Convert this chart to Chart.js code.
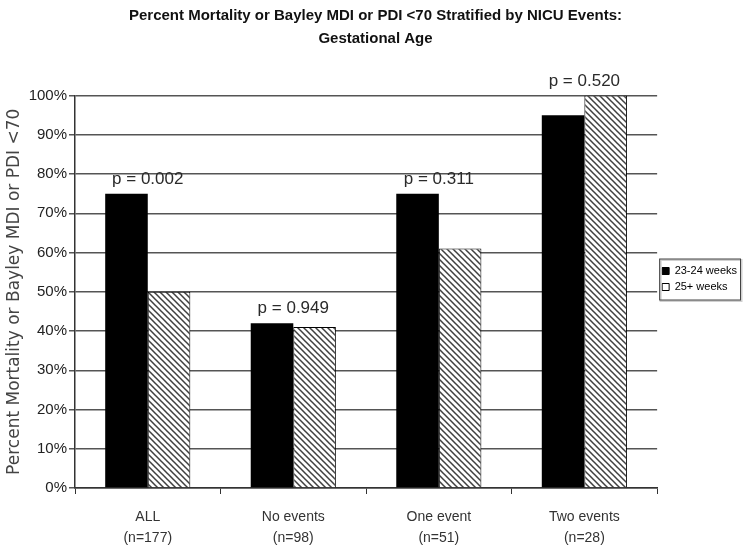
<!DOCTYPE html>
<html>
<head>
<meta charset="utf-8">
<script src="https://cdn.jsdelivr.net/npm/chart.js@4/dist/chart.umd.min.js"></script>
<style>
  html, body { margin: 0; padding: 0; background: #fff; }
  #wrap { width: 750px; height: 558px; position: relative; }
</style>
</head>
<body>
<div id="wrap"><canvas id="c" width="750" height="558"></canvas></div>
<script>
// ---- data ----
const categories = ['ALL', 'No events', 'One event', 'Two events'];
const groupSizes = ['(n=177)', '(n=98)', '(n=51)', '(n=28)'];
const seriesNames = ['23-24 weeks', '25+ weeks'];
const weeks23to24 = [75, 42, 75, 95];
const weeks25plus = [50, 41, 61, 100];
const pValues = ['p = 0.002', 'p = 0.949', 'p = 0.311', 'p = 0.520'];
const yTicks = [0, 10, 20, 30, 40, 50, 60, 70, 80, 90, 100];

const NARROW = "'Liberation Sans Narrow', 'Arial Narrow', 'Liberation Sans', Arial, sans-serif";

function makeHatch() {
  const s = 6;
  const c = document.createElement('canvas');
  c.width = s; c.height = s;
  const g = c.getContext('2d');
  g.fillStyle = '#ffffff';
  g.fillRect(0, 0, s, s);
  g.strokeStyle = '#404040';
  g.lineWidth = 1.5;
  g.beginPath();
  g.moveTo(-2, -2); g.lineTo(s + 2, s + 2);
  g.moveTo(-2 - s, -2); g.lineTo(2, s + 2);
  g.moveTo(s - 2, -2); g.lineTo(2 * s + 2, s + 2);
  g.stroke();
  return g.createPattern(c, 'repeat');
}
const hatch = makeHatch();

const pLabelPlugin = {
  id: 'pLabels',
  afterDatasetsDraw(chart) {
    const ctx = chart.ctx;
    const xs = chart.scales.x, ys = chart.scales.y;
    ctx.save();
    ctx.font = "17px " + NARROW;
    ctx.fillStyle = '#2a2a2a';
    ctx.textAlign = 'center';
    ctx.textBaseline = 'bottom';
    pValues.forEach((t, i) => {
      const top = Math.max(weeks23to24[i], weeks25plus[i]);
      ctx.fillText(t, xs.getPixelForValue(i), ys.getPixelForValue(top) - 6);
    });
    ctx.restore();
  }
};

const legendBoxPlugin = {
  id: 'legendBox',
  afterDraw(chart) {
    const lg = chart.legend;
    if (!lg || !lg.legendHitBoxes || !lg.legendHitBoxes.length) return;
    const hb = lg.legendHitBoxes;
    let l = Infinity, t = Infinity, r = -Infinity, b = -Infinity;
    hb.forEach(h => { l = Math.min(l, h.left); t = Math.min(t, h.top); r = Math.max(r, h.left + h.width); b = Math.max(b, h.top + h.height); });
    const ctx = chart.ctx;
    ctx.save();
    ctx.strokeStyle = '#d0d0d0';
    ctx.lineWidth = 2;
    ctx.strokeRect(l - 3 + 1.5, t - 7 + 1.5, (r - l) + 6, (b - t) + 14);
    ctx.strokeStyle = '#444';
    ctx.lineWidth = 1;
    ctx.strokeRect(l - 3 + 0.5, t - 7 + 0.5, (r - l) + 6, (b - t) + 14);
    ctx.restore();
  }
};

new Chart(document.getElementById('c'), {
  type: 'bar',
  data: {
    labels: categories.map((c, i) => [c, groupSizes[i]]),
    datasets: [
      { label: seriesNames[0], data: weeks23to24, backgroundColor: '#000000', borderColor: '#000000', borderWidth: 0 },
      { label: seriesNames[1], data: weeks25plus, backgroundColor: hatch, borderColor: '#000000', borderWidth: 1 }
    ]
  },
  options: {
    responsive: false,
    animation: false,
    devicePixelRatio: 1,
    datasets: { bar: { categoryPercentage: 0.585, barPercentage: 1.0 } },
    layout: { padding: { left: 4, right: 3, top: 0, bottom: 0 } },
    plugins: {
      title: {
        display: true,
        text: ['Percent Mortality or Bayley MDI or PDI <70 Stratified by NICU Events:', 'Gestational Age'],
        font: { family: NARROW, size: 15, weight: 'bold', lineHeight: 1.55 },
        color: '#111',
        padding: { top: 4, bottom: 45 }
      },
      legend: {
        position: 'right',
        align: 'center',
        labels: {
          font: { family: NARROW, size: 11 },
          color: '#111',
          boxWidth: 7,
          boxHeight: 7,
          padding: 5,
          generateLabels(chart) {
            return chart.data.datasets.map((d, i) => ({
              text: d.label,
              fillStyle: i === 0 ? '#000' : '#fff',
              strokeStyle: '#000',
              lineWidth: 1,
              datasetIndex: i,
              hidden: false
            }));
          }
        }
      },
      tooltip: { enabled: false }
    },
    scales: {
      x: {
        offset: true,
        afterFit(scale) { scale.height = 70; },
        grid: { display: true, drawOnChartArea: false, drawTicks: true, tickLength: 6, offset: true, color: '#333' },
        border: { display: true, color: '#333', width: 1.5 },
        ticks: { font: { family: NARROW, size: 14, lineHeight: 1.5 }, color: '#333', padding: 13, maxRotation: 0 }
      },
      y: {
        min: 0, max: 100,
        afterFit(scale) { scale.width = 71; },
        afterBuildTicks(scale) { scale.ticks = yTicks.map(v => ({ value: v })); },
        grid: { color: '#555', lineWidth: 1.5, drawTicks: true, tickLength: 6 },
        border: { display: true, color: '#333', width: 1.5 },
        ticks: { font: { family: NARROW, size: 15 }, color: '#222', padding: 2, callback: v => v + '%' },
        title: {
          display: true,
          text: 'Percent Mortality or Bayley MDI or PDI <70',
          font: { family: "'DejaVu Sans', sans-serif", size: 17 },
          color: '#444',
          padding: { top: 0, bottom: 2 }
        }
      }
    }
  },
  plugins: [pLabelPlugin, legendBoxPlugin]
});
</script>
</body>
</html>
